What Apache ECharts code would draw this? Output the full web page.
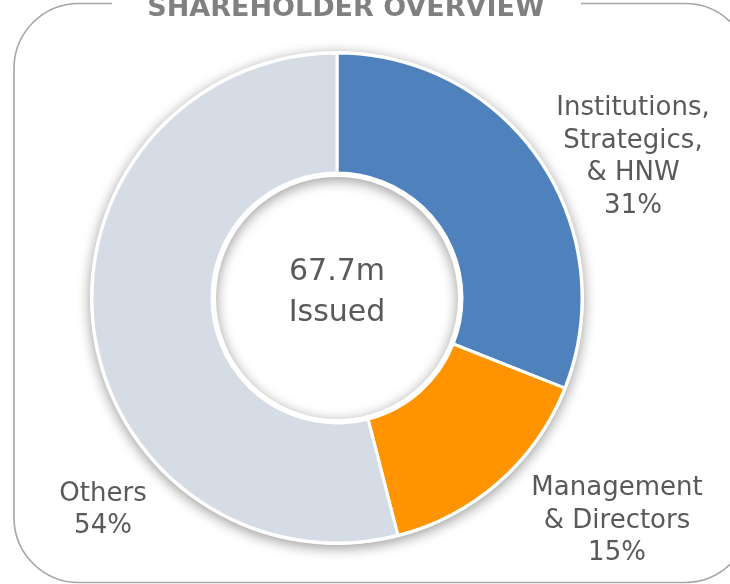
<!DOCTYPE html>
<html>
<head>
<meta charset="utf-8">
<script src="https://cdn.jsdelivr.net/npm/echarts@6/dist/echarts.min.js"></script>
<style>
html,body{margin:0;padding:0;background:#fff;}
#c{width:730px;height:584px;}
</style>
</head>
<body>
<div id="c"></div>
<script>
const titleText = 'SHAREHOLDER OVERVIEW';
const categories = ['Institutions,\nStrategics,\n& HNW', 'Management\n& Directors', 'Others'];
const values = [31, 15, 54];
const colors = ['#4F81BD', '#FF9300', '#D6DCE5'];
const centerLines = ['67.7m', 'Issued'];

const FONT = '"DejaVu Sans", "Noto Sans", sans-serif';
const TXT = '#595959';
const labelAnchors = [[633, 157], [617, 521], [103, 510]];

const chart = echarts.init(document.getElementById('c'), null, {renderer: 'canvas'});
chart.setOption({
  backgroundColor: '#fff',
  animation: false,
  graphic: [
    {type: 'rect', z: 0, silent: true,
      shape: {x: 14, y: 3.5, width: 736, height: 579, r: 65},
      style: {fill: 'none', stroke: '#A6A6A6', lineWidth: 1.6}},
    {type: 'rect', z: 1, silent: true,
      shape: {x: 112, y: 0, width: 469, height: 10},
      style: {fill: '#fff'}},
    {type: 'text', z: 2, silent: true, x: 346, y: 22,
      style: {text: titleText, fill: '#808080', font: 'bold 27px ' + FONT,
        align: 'center', verticalAlign: 'bottom'}},
    {type: 'text', z: 10, silent: true, x: 337, y: 293,
      style: {text: centerLines.join('\n'), fill: TXT, font: '30px ' + FONT,
        lineHeight: 41, align: 'center', verticalAlign: 'middle'}}
  ],
  series: [
    {
      type: 'pie', z: 1, silent: true,
      center: [337, 298], radius: [121, 247],
      startAngle: 90,
      label: {show: false}, labelLine: {show: false},
      itemStyle: {color: '#fff', shadowBlur: 13, shadowColor: 'rgba(0,0,0,0.4)', shadowOffsetY: 3},
      data: [{value: 1, name: 'bg'}]
    },
    {
      type: 'pie', z: 2,
      center: [337, 298], radius: [125, 245],
      startAngle: 90, clockwise: true,
      avoidLabelOverlap: false,
      itemStyle: {borderColor: '#fff', borderWidth: 3},
      label: {
        show: true, position: 'outside',
        formatter: '{b}\n{c}%',
        color: TXT, fontFamily: FONT, fontSize: 26, lineHeight: 32.5,
        align: 'center'
      },
      labelLine: {show: false},
      labelLayout: function (p) {
        const a = labelAnchors[p.dataIndex];
        return {x: a[0], y: a[1], align: 'center', verticalAlign: 'middle'};
      },
      emphasis: {disabled: true},
      data: categories.map((c, i) => ({name: c, value: values[i], itemStyle: {color: colors[i]}}))
    }
  ]
});
</script>
</body>
</html>
